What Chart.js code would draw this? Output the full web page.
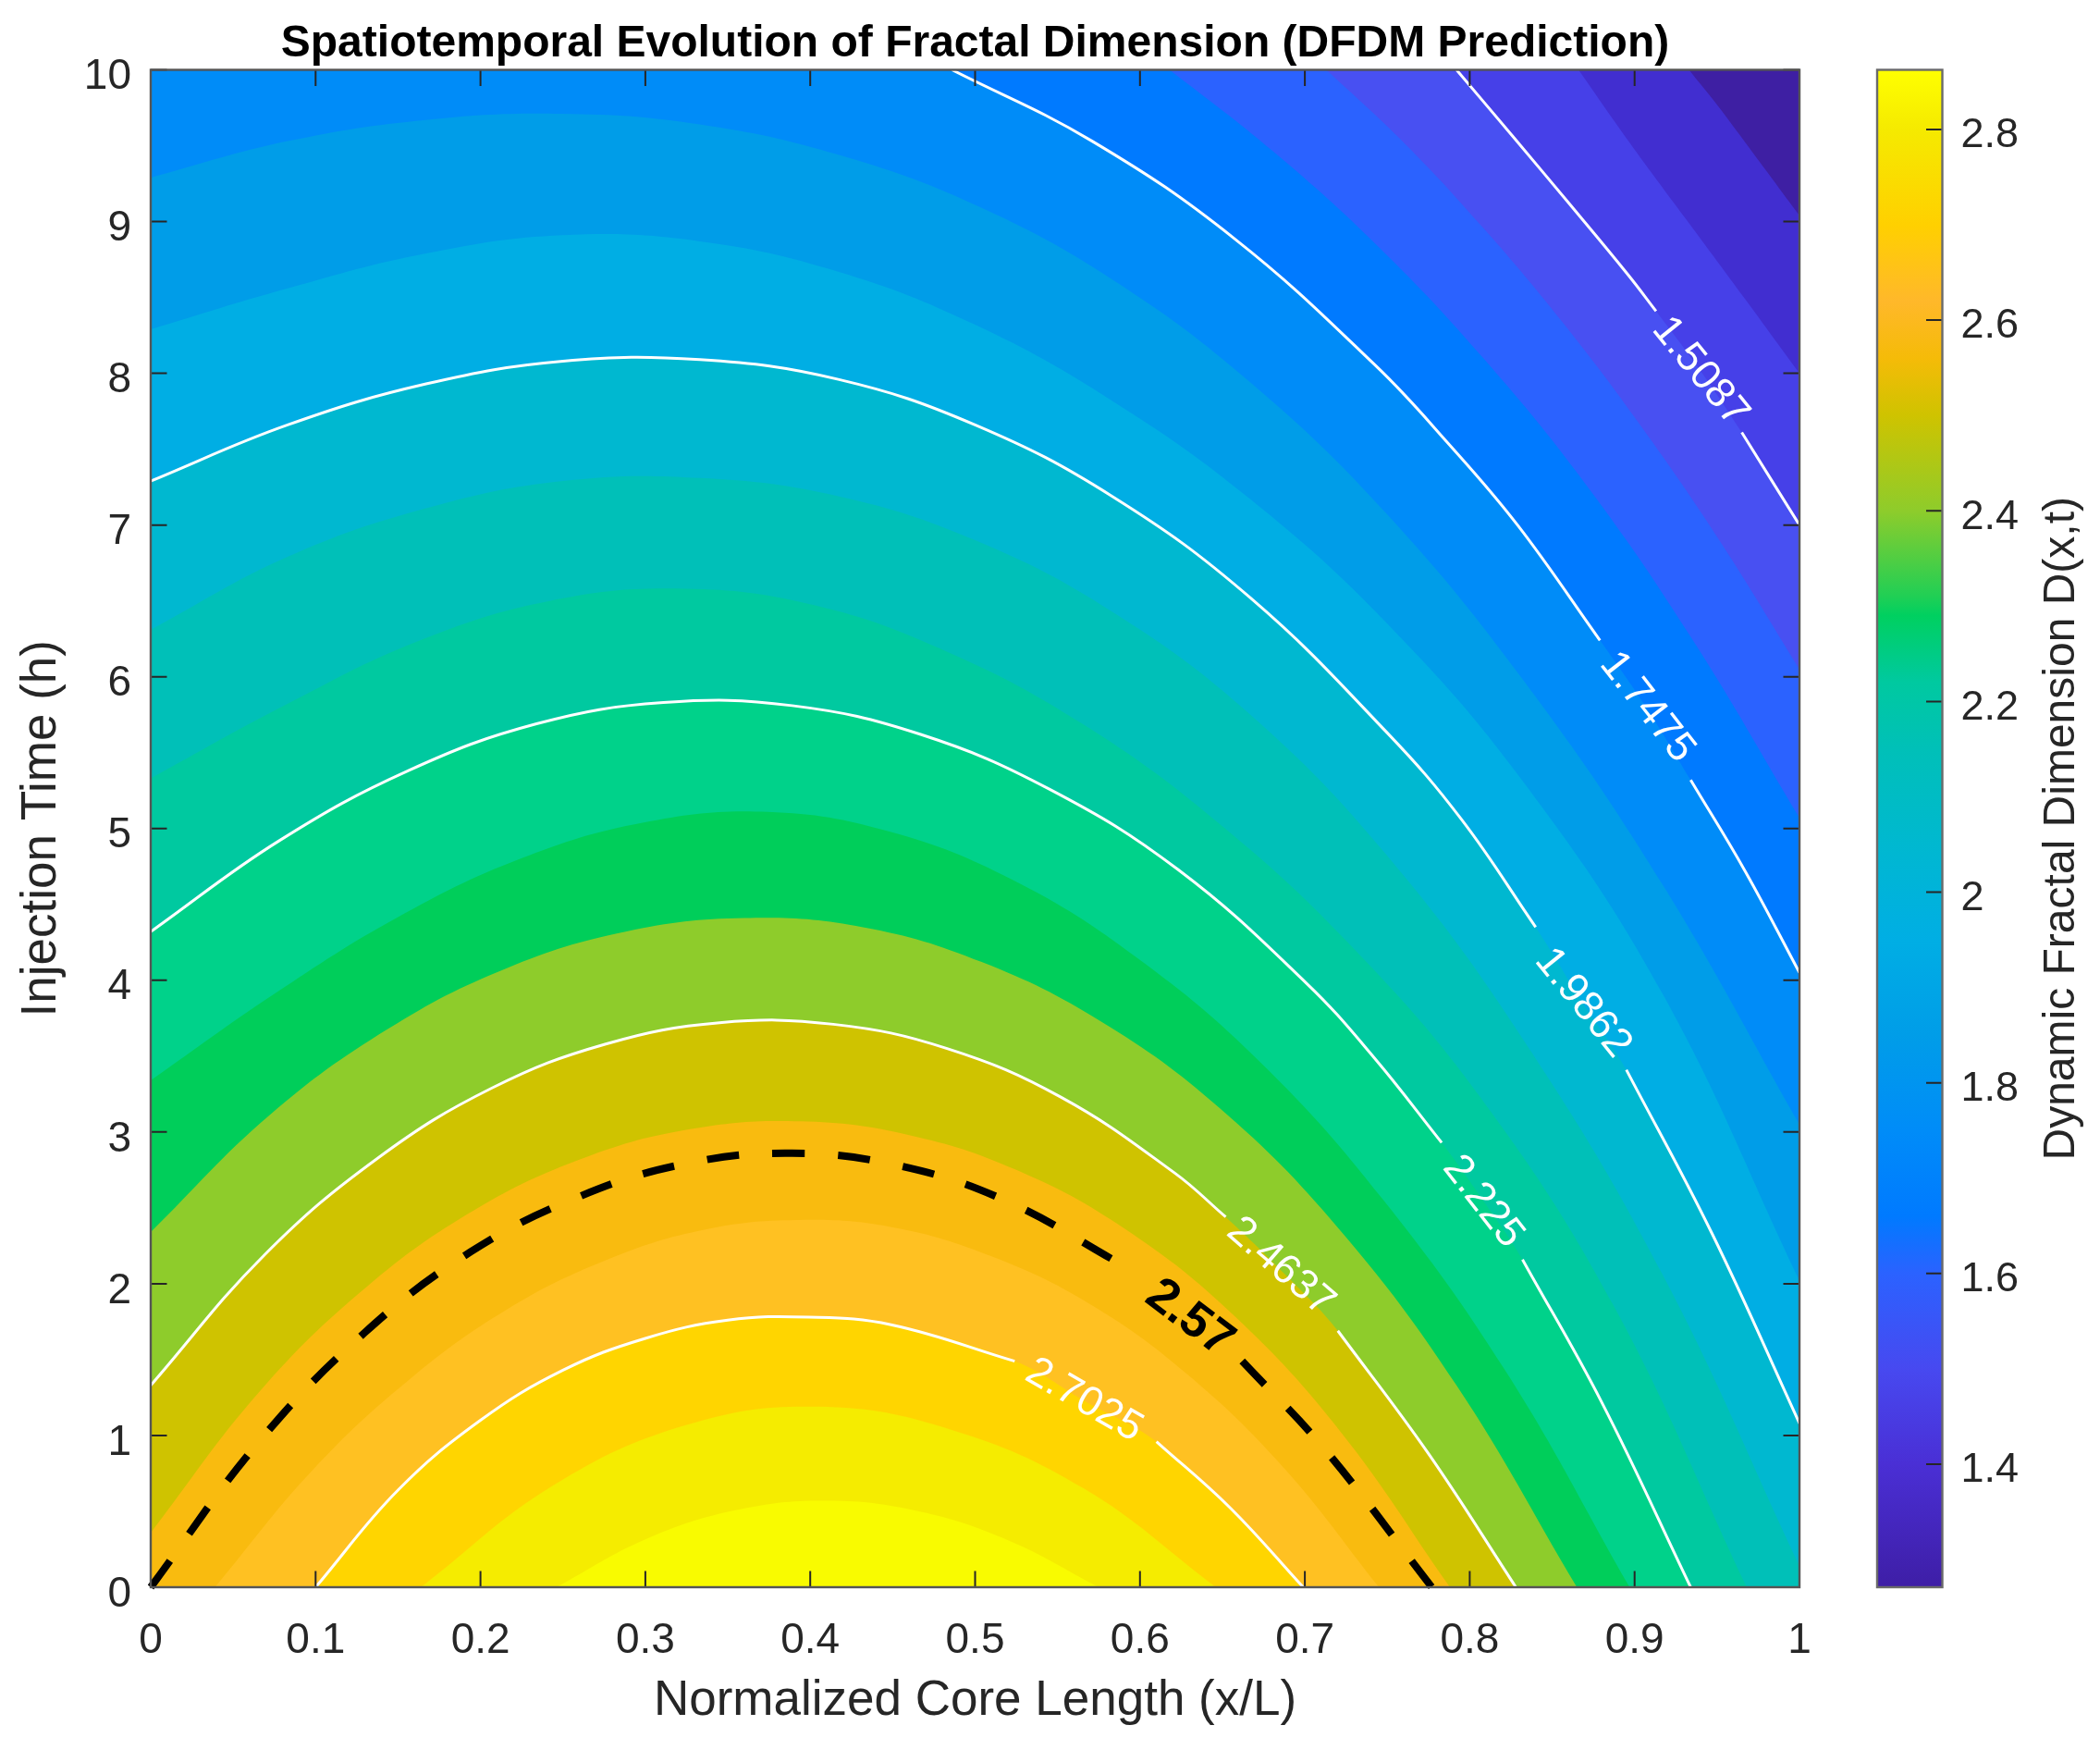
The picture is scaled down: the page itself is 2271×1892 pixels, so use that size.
<!DOCTYPE html>
<html><head><meta charset="utf-8">
<style>html,body{margin:0;padding:0;background:#fff}canvas{position:absolute;top:0}#main{left:0}#bar{left:2000px}</style>
<script src="https://cdn.jsdelivr.net/npm/chart.js@4/dist/chart.umd.min.js"></script>
</head><body>
<canvas id="main" width="2109" height="1892"></canvas>
<canvas id="bar" width="271" height="1892"></canvas>
<script>
const titleText='Spatiotemporal Evolution of Fractal Dimension (DFDM Prediction)';
const xLabel='Normalized Core Length (x/L)';
const yLabel='Injection Time (h)';
const barLabel='Dynamic Fractal Dimension D(x,t)';
const xTicks=[0,0.1,0.2,0.3,0.4,0.5,0.6,0.7,0.8,0.9,1];
const yTicks=[0,1,2,3,4,5,6,7,8,9,10];
const barTicks=[1.4,1.6,1.8,2,2.2,2.4,2.6,2.8];
const barRange=[1.271,2.8625];

const edge00=[[0,10],[1,10]];
const edge01=[[0,14],[0.883,10.7],[0.933,10],[0.950,9.77],[0.972,9.45],[1,9.04]];
const edge02=[[0,14],[0.816,10.78],[0.866,10],[0.899,9.49],[0.933,8.99],[0.967,8.49],[1,8.0]];
const edge03=[[0,14],[0.742,10.64],[0.792,10],[0.827,9.55],[0.861,9.11],[0.896,8.65],[0.913,8.41],[0.9397,8.02],[0.965,7.61],[1,7.0]];
const edge04=[[0,14],[0.663,10.5],[0.713,10],[0.761,9.51],[0.808,8.96],[0.856,8.34],[0.904,7.65],[0.952,6.89],[1,6.05]];
const edge05=[[0,14],[0.568,10.42],[0.618,10],[0.681,9.46],[0.745,8.83],[0.809,8.09],[0.873,7.23],[0.936,6.23],[1,5.07]];
const edge06=[[0,14],[0.436,10.24],[0.486,10],[0.571,9.53],[0.657,8.89],[0.743,8.05],[0.786,7.55],[0.829,7.0],[0.879,6.24],[0.9075,5.79],[0.934,5.32],[0.967,4.72],[1,4.05]];
const edge07=[[0,9.29],[0.083,9.53],[0.167,9.67],[0.250,9.71],[0.333,9.64],[0.417,9.44],[0.500,9.11],[0.583,8.62],[0.667,7.94],[0.750,7.07],[0.833,5.97],[0.917,4.63],[1,3.05]];
const edge08=[[0,8.29],[0.083,8.56],[0.167,8.79],[0.250,8.91],[0.333,8.87],[0.417,8.67],[0.500,8.32],[0.583,7.82],[0.667,7.17],[0.750,6.35],[0.833,5.30],[0.917,3.91],[1,2.02]];
const edge09=[[0,7.29],[0.083,7.66],[0.167,7.93],[0.250,8.08],[0.333,8.09],[0.417,7.96],[0.500,7.66],[0.583,7.19],[0.667,6.52],[0.750,5.63],[0.795,5.06],[0.84,4.35],[0.8686,3.85],[0.895,3.41],[0.947,2.33],[1,1.08]];
const edge10=[[0,6.31],[0.083,6.79],[0.167,7.11],[0.250,7.29],[0.333,7.31],[0.417,7.19],[0.500,6.90],[0.583,6.43],[0.667,5.75],[0.750,4.82],[0.833,3.60],[0.917,2.06],[1,0.14]];
const edge11=[[0,5.33],[0.081,5.81],[0.161,6.23],[0.242,6.50],[0.323,6.58],[0.403,6.47],[0.484,6.16],[0.565,5.69],[0.645,5.06],[0.726,4.25],[0.807,3.22],[0.887,1.86],[0.968,0]];
const edge12=[[0,4.32],[0.078,4.92],[0.156,5.38],[0.234,5.69],[0.311,5.83],[0.389,5.81],[0.467,5.62],[0.545,5.26],[0.623,4.73],[0.701,3.98],[0.742,3.49],[0.783,2.93],[0.808,2.55],[0.832,2.16],[0.88,1.22],[0.934,0]];
const edge13=[[0,3.34],[0.075,3.91],[0.149,4.41],[0.224,4.80],[0.299,5.04],[0.374,5.11],[0.448,4.98],[0.523,4.66],[0.598,4.15],[0.673,3.46],[0.747,2.56],[0.822,1.42],[0.897,0]];
const edge14=[[0,2.34],[0.072,3.11],[0.144,3.68],[0.216,4.08],[0.288,4.32],[0.360,4.41],[0.432,4.35],[0.504,4.12],[0.576,3.73],[0.648,3.16],[0.720,2.37],[0.792,1.33],[0.865,0]];
const edge15=[[0,1.33],[0.069,2.19],[0.138,2.83],[0.207,3.29],[0.276,3.58],[0.345,3.72],[0.414,3.71],[0.483,3.55],[0.552,3.23],[0.621,2.73],[0.652,2.44],[0.690,2.04],[0.72,1.69],[0.775,0.88],[0.828,0]];
const edge16=[[0,0.36],[0.066,1.29],[0.131,1.98],[0.197,2.49],[0.263,2.83],[0.328,3.02],[0.394,3.07],[0.460,2.98],[0.525,2.75],[0.591,2.36],[0.657,1.79],[0.722,1.02],[0.788,0]];
const edge17=[[0.039,0],[0.098,0.77],[0.157,1.37],[0.216,1.83],[0.275,2.15],[0.333,2.35],[0.392,2.42],[0.451,2.37],[0.510,2.18],[0.569,1.87],[0.628,1.41],[0.687,0.79],[0.745,0]];
const edge18=[[0.1,0],[0.150,0.64],[0.200,1.10],[0.250,1.43],[0.300,1.64],[0.350,1.76],[0.399,1.78],[0.449,1.73],[0.524,1.49],[0.566,1.23],[0.61,0.96],[0.655,0.52],[0.699,0]];
const edge19=[[0.164,0],[0.244,0.67],[0.325,1.07],[0.405,1.19],[0.485,1.04],[0.566,0.65],[0.646,0]];
const edge20=[[0.246,0],[0.301,0.32],[0.356,0.51],[0.411,0.57],[0.466,0.50],[0.520,0.31],[0.575,0]];
const blackContour=[[0,0],[0.065,0.95],[0.130,1.68],[0.194,2.21],[0.259,2.57],[0.324,2.79],[0.389,2.86],[0.453,2.78],[0.518,2.55],[0.59,2.12],[0.63,1.77],[0.662,1.49],[0.712,0.91],[0.777,0]];

const bandEdges=[edge00,edge01,edge02,edge03,edge04,edge05,edge06,edge07,edge08,edge09,edge10,edge11,edge12,edge13,edge14,edge15,edge16,edge17,edge18,edge19,edge20];
const bandColors=['#3e1fa3','#412ed0','#4640e8','#4850f2','#2b62ff','#007aff','#008cf8','#009de8','#00aee4','#00b8d0','#00c0b8','#00c9a0','#00d28a','#00ce5a','#8ecc2b','#cfc300','#f9bb0f','#ffc122','#ffd500','#f5ec00','#f9fb00'];

const whiteEdges=[edge03,edge06,edge09,edge12,edge15,edge18];
const labelTexts=['1.5087','1.7475','1.9862','2.225','2.4637','2.7025'];
const labelX=[0.9397,0.9075,0.8686,0.808,0.6853,0.566];
const labelT=[8.01,5.80,3.85,2.54,2.11,1.23];
const labelAngle=[51,52,51,52,41,30];
const gapFrom=[0.913,0.879,0.84,0.783,0.652,0.524];
const gapTo=[0.965,0.934,0.895,0.832,0.72,0.61];
const blackLabel={text:'2.57',x:0.63,t:1.77,angle:37,gapFrom:0.59,gapTo:0.662};

const barStops=[[1.271,'#3e1ea6'],[1.4,'#4a2fd5'],[1.5,'#4749f0'],[1.6,'#2b62ff'],[1.66,'#007aff'],[1.75,'#008cf8'],[1.85,'#009de8'],[1.95,'#00aee4'],[2.05,'#00b8d0'],[2.15,'#00c0b8'],[2.22,'#00c9a0'],[2.29,'#00d060'],[2.31,'#20cf55'],[2.4,'#8ecc2b'],[2.5,'#cfc300'],[2.56,'#f5bb08'],[2.62,'#ffb82a'],[2.7,'#ffd000'],[2.8,'#f5ea00'],[2.8625,'#ffff00']];

const FONT='"Liberation Sans", Arial, sans-serif';
const INK='#262626';
const toPts=a=>a.map(p=>({x:p[0],y:p[1]}));
const withGap=(a,f,t)=>a.map(p=>({x:p[0],y:(p[0]>f&&p[0]<t)?null:p[1]}));
const datasets=[];
bandEdges.forEach((e,i)=>{datasets.push({data:toPts(e),showLine:true,fill:'start',backgroundColor:bandColors[i],borderWidth:0,pointRadius:0,tension:0.4,order:100-i,clip:0});});
whiteEdges.forEach((e,i)=>{const pts=e[0][1]===14?e.slice(2):e;datasets.push({data:withGap(pts,gapFrom[i],gapTo[i]),showLine:true,fill:false,borderColor:'#ffffff',borderWidth:3,pointRadius:0,tension:0.4,order:10-i,clip:0,spanGaps:false});});
datasets.push({data:withGap(blackContour,blackLabel.gapFrom,blackLabel.gapTo),showLine:true,fill:false,borderColor:'#000000',borderWidth:8,borderDash:[35,36],pointRadius:0,tension:0.4,order:1,spanGaps:false,clip:3});

const decor={id:'decor',afterDatasetsDraw(c){
  const {ctx,chartArea:A,scales:{x,y}}=c;
  ctx.save();
  ctx.font='45px '+FONT;ctx.textAlign='center';ctx.textBaseline='middle';ctx.fillStyle='#ffffff';
  labelTexts.forEach((s,i)=>{ctx.save();ctx.translate(x.getPixelForValue(labelX[i]),y.getPixelForValue(labelT[i]));ctx.rotate(labelAngle[i]*Math.PI/180);ctx.fillText(s,0,0);ctx.restore();});
  ctx.font='bold 53px '+FONT;ctx.fillStyle='#000000';
  ctx.save();ctx.translate(x.getPixelForValue(blackLabel.x),y.getPixelForValue(blackLabel.t));ctx.rotate(blackLabel.angle*Math.PI/180);ctx.fillText(blackLabel.text,0,0);ctx.restore();
  ctx.strokeStyle=INK;ctx.lineWidth=2;ctx.beginPath();
  x.ticks.forEach(t=>{const p=x.getPixelForValue(t.value);ctx.moveTo(p,A.bottom);ctx.lineTo(p,A.bottom-17.5);ctx.moveTo(p,A.top);ctx.lineTo(p,A.top+17.5);});
  y.ticks.forEach(t=>{const p=y.getPixelForValue(t.value);ctx.moveTo(A.left,p);ctx.lineTo(A.left+17.5,p);ctx.moveTo(A.right,p);ctx.lineTo(A.right-17.5,p);});
  ctx.stroke();
  ctx.strokeStyle='#555555';ctx.lineWidth=2.4;ctx.strokeRect(A.left,A.top,A.right-A.left,A.bottom-A.top);
  ctx.restore();
}};
const fmt=v=>String(+Number(v).toFixed(1));
new Chart(document.getElementById('main'),{type:'scatter',data:{datasets},plugins:[decor],options:{
  responsive:false,animation:false,devicePixelRatio:1,
  layout:{padding:0},
  plugins:{legend:{display:false},tooltip:{enabled:false},
    title:{display:true,text:titleText,color:'#000000',font:{family:FONT,size:48,weight:'bold',lineHeight:1.15},padding:{top:20,bottom:0.3}}},
  scales:{
    x:{type:'linear',min:0,max:1,afterBuildTicks:s=>{s.ticks=xTicks.map(v=>({value:v}));},afterFit:s=>{s.height=176;},grid:{display:false,drawTicks:false},border:{display:false},
      ticks:{color:INK,font:{family:FONT,size:46},padding:31,maxRotation:0,autoSkip:false,callback:fmt},
      title:{display:true,text:xLabel,color:INK,font:{family:FONT,size:53},padding:{top:0,bottom:21}}},
    y:{type:'linear',min:0,max:10,afterBuildTicks:s=>{s.ticks=yTicks.map(v=>({value:v}));},afterFit:s=>{s.width=163;},grid:{display:false,drawTicks:false},border:{display:false},
      ticks:{color:INK,font:{family:FONT,size:46},padding:21,labelOffset:8,autoSkip:false,callback:fmt},
      title:{display:true,text:yLabel,color:INK,font:{family:FONT,size:53},padding:{top:14,bottom:0}}},
    spacer:{type:'linear',position:'right',display:true,afterFit:s=>{s.width=163;},grid:{display:false,drawTicks:false},border:{display:false},ticks:{display:false}}
  }}});

const barDecor={id:'barDecor',afterDatasetsDraw(c){
  const {ctx,chartArea:A,scales:{y}}=c;
  ctx.save();
  ctx.strokeStyle=INK;ctx.lineWidth=2;ctx.beginPath();
  y.ticks.forEach(t=>{const p=y.getPixelForValue(t.value);ctx.moveTo(A.right,p);ctx.lineTo(A.right-17.5,p);});
  ctx.stroke();
  ctx.strokeStyle='#6a6a6a';ctx.lineWidth=2.4;ctx.strokeRect(A.left,A.top,A.right-A.left,A.bottom-A.top);
  ctx.fillStyle=INK;ctx.font='48px '+FONT;ctx.textAlign='center';ctx.textBaseline='middle';
  ctx.translate(230,(A.top+A.bottom)/2);ctx.rotate(-Math.PI/2);ctx.fillText(barLabel,0,0);
  ctx.restore();
}};
new Chart(document.getElementById('bar'),{type:'bar',data:{labels:['D'],datasets:[{data:[barRange],barPercentage:1,categoryPercentage:1,borderWidth:0,
  backgroundColor(ctx){const c=ctx.chart;if(!c.chartArea)return '#000';const y=c.scales.y;const g=c.ctx.createLinearGradient(0,y.getPixelForValue(barRange[0]),0,y.getPixelForValue(barRange[1]));barStops.forEach(s=>g.addColorStop((s[0]-barRange[0])/(barRange[1]-barRange[0]),s[1]));return g;}}]},
  plugins:[barDecor],options:{responsive:false,animation:false,devicePixelRatio:1,
  layout:{padding:{left:30,right:0,top:75.5,bottom:176}},
  plugins:{legend:{display:false},tooltip:{enabled:false}},
  scales:{x:{display:false},
    y:{position:'right',min:barRange[0],max:barRange[1],afterBuildTicks:s=>{s.ticks=barTicks.map(v=>({value:v}));},afterFit:s=>{s.width=170.5;},grid:{display:false,drawTicks:false},border:{display:false},
      ticks:{color:INK,font:{family:FONT,size:45},padding:20,labelOffset:7,autoSkip:false,callback:fmt}}}}});
</script>
</body></html>
